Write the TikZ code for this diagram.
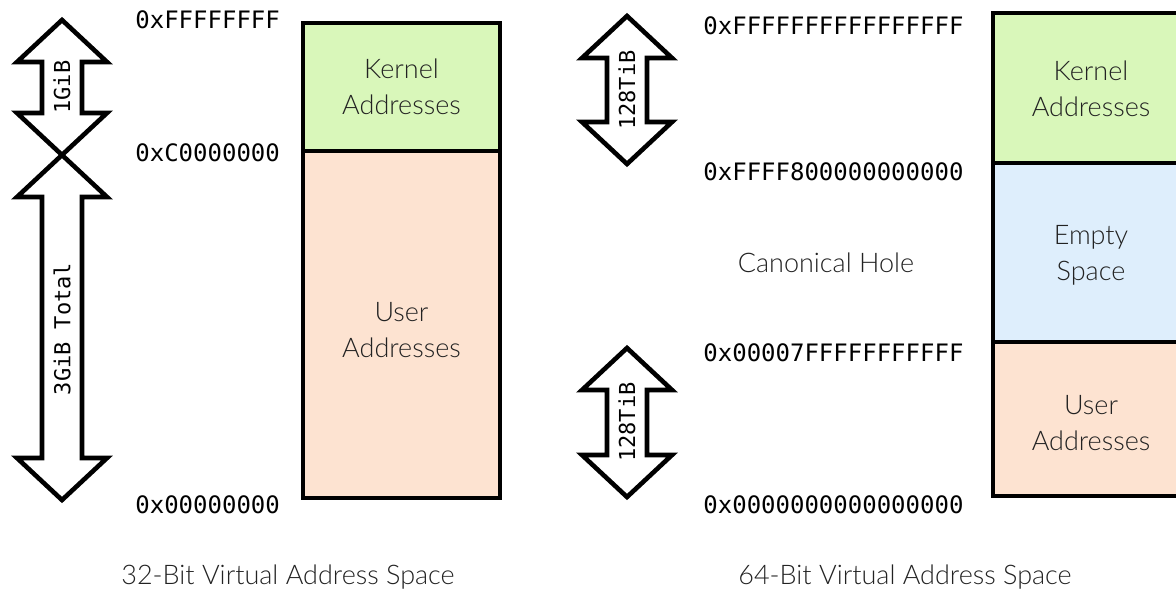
\documentclass[tikz,border=0pt]{standalone}
\usepackage{fontspec}
\setmainfont{Lato Light}
\setmonofont{DejaVu Sans Mono}
\definecolor{kgreen}{HTML}{D9F7BA}
\definecolor{eblue}{HTML}{DEEEFC}
\definecolor{upeach}{HTML}{FDE3D1}
\definecolor{txt}{HTML}{222222}
\newcommand{\dblarr}[3]{% cx, top tip, bottom tip
  \draw[arr] (#1,#2) -- (#1+45,#2+42) -- (#1+20,#2+42) -- (#1+20,#3-42) -- (#1+45,#3-42)
    -- (#1,#3) -- (#1-45,#3-42) -- (#1-20,#3-42) -- (#1-20,#2+42) -- (#1-45,#2+42) -- cycle;}
\begin{document}
\begin{tikzpicture}[x=0.5pt,y=-0.5pt,
  region/.style={draw=black, line width=2.1pt},
  regtext/.style={font=\fontsize{13.5}{18}\selectfont, text=txt, align=center, inner sep=0},
  addr/.style={font=\ttfamily\fontsize{12}{14}\selectfont, anchor=west, inner sep=0},
  arrlabel/.style={font=\ttfamily\fontsize{11}{13}\selectfont, rotate=90, inner sep=0},
  arr/.style={draw=black, line width=2.3pt, line join=miter, fill=white},
  caption/.style={font=\fontsize{13.5}{18}\selectfont, text=txt, inner sep=0}]
\useasboundingbox (0,0) rectangle (1176,593);
\clip (0,0) rectangle (1176,593);
% ---- 32-bit ----
\draw[region, fill=upeach] (303,151) rectangle (500,498);
\draw[region, fill=kgreen] (303,23) rectangle (500,151);
\node[regtext] (k32) at (401.5,87) {Kernel\\Addresses};
\node[regtext] (u32) at (401.5,330) {User\\Addresses};
\node[addr] (a32top) at (135,20) {0xFFFFFFFF};
\node[addr] (a32mid) at (135,153) {0xC0000000};
\node[addr] (a32bot) at (135,505) {0x00000000};
\dblarr{62}{20}{155}
\node[arrlabel] (l1g) at (62,87) {1GiB};
\dblarr{62}{155}{500}
\node[arrlabel] (l3g) at (62,329) {3GiB Total};
\node[caption] (c32) at (288,577) {32-Bit Virtual Address Space};
% ---- 64-bit ----
\draw[region, fill=upeach] (993,342) rectangle (1192,496);
\draw[region, fill=eblue] (993,163) rectangle (1192,342);
\draw[region, fill=kgreen] (993,13) rectangle (1192,163);
\node[regtext] (k64) at (1091,89) {Kernel\\Addresses};
\node[regtext] (e64) at (1091,255) {Empty\\Space};
\node[regtext] (u64) at (1091,423) {User\\Addresses};
\node[addr] (a64top) at (703,26) {0xFFFFFFFFFFFFFFFF};
\node[addr] (a64k) at (703,172) {0xFFFF800000000000};
\node[addr] (a64u) at (703,353) {0x00007FFFFFFFFFFF};
\node[addr] (a64bot) at (703,505) {0x0000000000000000};
\node[regtext] (hole) at (826,263) {Canonical Hole};
\dblarr{627}{16}{164}
\node[arrlabel] (l128a) at (627,90) {128TiB};
\dblarr{627}{348}{497}
\node[arrlabel] (l128b) at (627,422) {128TiB};
\node[caption] (c64) at (905,577) {64-Bit Virtual Address Space};
\end{tikzpicture}
\end{document}
